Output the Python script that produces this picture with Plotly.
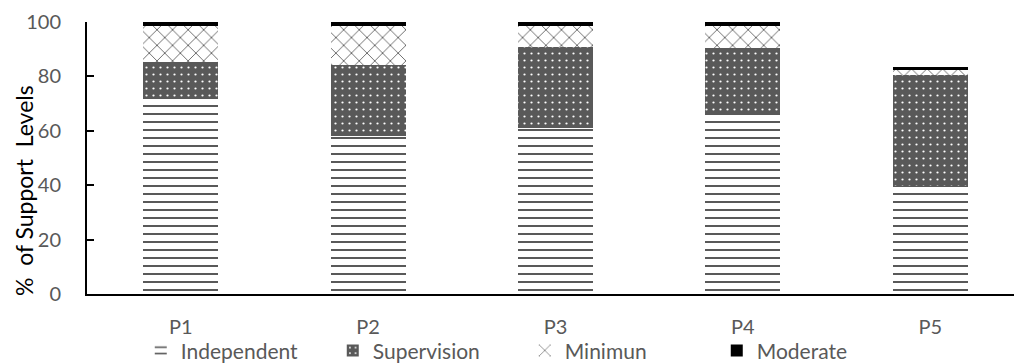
import plotly.graph_objects as go

categories = ["P1", "P2", "P3", "P4", "P5"]
independent = [72.3, 58.1, 60.9, 66.1, 39.7]
supervision = [13.1, 26.1, 29.8, 24.5, 40.8]
minimun = [13.3, 14.3, 7.8, 8.1, 1.9]
moderate = [1.3, 1.5, 1.5, 1.3, 0.9]
y_ticks = [0, 20, 40, 60, 80, 100]

GRAY = "#595959"
FONT = "Lato, Carlito, Calibri, sans-serif"

fig = go.Figure()
fig.add_trace(go.Bar(
    name="Independent", x=categories, y=independent,
    marker=dict(color="white", line=dict(width=0),
                pattern=dict(shape="-", fgcolor=GRAY, bgcolor="white",
                             size=8, solidity=0.25, fillmode="replace")),
))
fig.add_trace(go.Bar(
    name="Supervision", x=categories, y=supervision,
    marker=dict(color=GRAY, line=dict(width=0),
                pattern=dict(shape=".", fgcolor="white", bgcolor=GRAY,
                             size=7, solidity=0.08, fillmode="replace")),
))
fig.add_trace(go.Bar(
    name="Minimun", x=categories, y=minimun,
    marker=dict(color="white", line=dict(width=0),
                pattern=dict(shape="x", fgcolor=GRAY, bgcolor="white",
                             size=11, solidity=0.15, fillmode="replace")),
))
fig.add_trace(go.Bar(
    name="Moderate", x=categories, y=moderate,
    marker=dict(color="black", line=dict(width=0)),
))

fig.update_layout(
    barmode="stack",
    bargap=0.6,
    width=1014, height=364,
    margin=dict(l=87, r=0, t=22, b=70, autoexpand=False),
    paper_bgcolor="white", plot_bgcolor="white",
    font=dict(family=FONT, size=20, color=GRAY),
    showlegend=True,
    legend=dict(
        orientation="h", x=0.058, xanchor="left", y=-0.284, yanchor="bottom",
        entrywidth=147, entrywidthmode="pixels", itemwidth=30,
        font=dict(family=FONT, size=21, color=GRAY),
        bgcolor="rgba(0,0,0,0)", traceorder="normal",
    ),
    xaxis=dict(
        range=[-0.5, 4.447], showgrid=False, zeroline=False,
        showline=True, linecolor="black", linewidth=2,
        ticks="", ticklabelstandoff=14,
        tickfont=dict(family=FONT, size=20, color=GRAY),
    ),
    yaxis=dict(
        range=[0, 100], tickvals=y_ticks, showgrid=False, zeroline=False,
        showline=True, linecolor="black", linewidth=2,
        ticks="inside", ticklen=7, tickwidth=2, tickcolor="black",
        ticklabelstandoff=20,
        tickfont=dict(family=FONT, size=20, color=GRAY),
    ),
    annotations=[dict(
        text="%  of Support  Levels", textangle=-90,
        xref="paper", yref="paper", x=-0.068, y=0.382,
        xanchor="center", yanchor="middle", showarrow=False,
        font=dict(family=FONT, size=23, color="black"),
    )],
)

fig.write_html("out.html")
